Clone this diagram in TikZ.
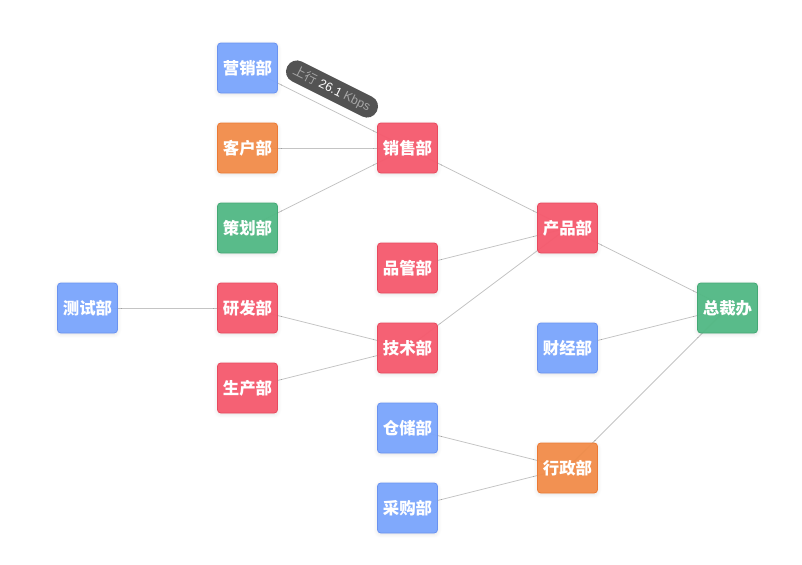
\documentclass[tikz,border=0pt]{standalone}
\usepackage{fontspec}
\setmainfont{Liberation Sans}
\newfontfamily\cjk{Noto Sans CJK SC}
\usetikzlibrary{shadows.blur}
\definecolor{nblue}{HTML}{7BA6FE}
\definecolor{nblueb}{HTML}{6A93F0}
\definecolor{nred}{HTML}{F75A6E}
\definecolor{nredb}{HTML}{E84A5E}
\definecolor{norange}{HTML}{F28D4A}
\definecolor{norangeb}{HTML}{EB7A35}
\definecolor{ngreen}{HTML}{52B985}
\definecolor{ngreenb}{HTML}{44A875}
\definecolor{edgec}{HTML}{C4C4C4}
\definecolor{tipc}{HTML}{4A4A4A}
\tikzset{
  dept/.style={rectangle, rounded corners=2.5pt, minimum width=45pt, minimum height=37.5pt,
    inner sep=0pt, text=white, font=\cjk\bfseries\fontsize{12.3}{13}\selectfont, line width=0.6pt,
    fill opacity=0.95, text opacity=1,
    blur shadow={shadow blur steps=6, shadow xshift=0pt, shadow yshift=-1pt, shadow opacity=12, shadow blur radius=3pt}},
  bluebox/.style={dept, fill=nblue, draw=nblueb},
  redbox/.style={dept, fill=nred, draw=nredb},
  orangebox/.style={dept, fill=norange, draw=norangeb},
  greenbox/.style={dept, fill=ngreen, draw=ngreenb},
  link/.style={draw=edgec, line width=0.6pt},
  tip/.style={rectangle, rounded corners=8pt, fill=tipc, fill opacity=0.95, text opacity=1,
    minimum height=16.5pt, inner xsep=6pt, inner ysep=0pt, font=\fontsize{9.3}{10}\selectfont}
}
\begin{document}
\begin{tikzpicture}[x=0.75pt, y=-0.75pt]
\useasboundingbox (0,0) rectangle (802,564);
% node coordinates (centres)
\coordinate (cYX) at (247.5,68);
\coordinate (cKH) at (247.5,148);
\coordinate (cCH) at (247.5,228);
\coordinate (cYF) at (247.5,308);
\coordinate (cSC) at (247.5,388);
\coordinate (cCS) at (87.5,308);
\coordinate (cXS) at (407.5,148);
\coordinate (cPG) at (407.5,268);
\coordinate (cJS) at (407.5,348);
\coordinate (cCC) at (407.5,428);
\coordinate (cCG) at (407.5,508);
\coordinate (cCP) at (567.5,228);
\coordinate (cCJ) at (567.5,348);
\coordinate (cXZ) at (567.5,468);
\coordinate (cZC) at (727.5,308);
% links
\draw[link] (cYX) -- (cXS);
\draw[link] (cKH) -- (cXS);
\draw[link] (cCH) -- (cXS);
\draw[link] (cCS) -- (cYF);
\draw[link] (cYF) -- (cJS);
\draw[link] (cSC) -- (cJS);
\draw[link] (cXS) -- (cCP);
\draw[link] (cPG) -- (cCP);
\draw[link] (cJS) -- (cCP);
\draw[link] (cCC) -- (cXZ);
\draw[link] (cCG) -- (cXZ);
\draw[link] (cCP) -- (cZC);
\draw[link] (cCJ) -- (cZC);
\draw[link] (cXZ) -- (cZC);
% nodes
\node[bluebox] (YX) at (cYX) {营销部};
\node[orangebox] (KH) at (cKH) {客户部};
\node[greenbox] (CH) at (cCH) {策划部};
\node[redbox] (YF) at (cYF) {研发部};
\node[redbox] (SC) at (cSC) {生产部};
\node[bluebox] (CS) at (cCS) {测试部};
\node[redbox] (XS) at (cXS) {销售部};
\node[redbox] (PG) at (cPG) {品管部};
\node[redbox] (JS) at (cJS) {技术部};
\node[bluebox] (CC) at (cCC) {仓储部};
\node[bluebox] (CG) at (cCG) {采购部};
\node[redbox] (CP) at (cCP) {产品部};
\node[bluebox] (CJ) at (cCJ) {财经部};
\node[orangebox] (XZ) at (cXZ) {行政部};
\node[greenbox] (ZC) at (cZC) {总裁办};
% tooltip
\node[tip, rotate=-26.57] (TIP) at (332,89) {\textcolor{gray!70}{\cjk 上行} \textcolor{white}{26.1} \textcolor{gray!70}{Kbps}};
\end{tikzpicture}
\end{document}
